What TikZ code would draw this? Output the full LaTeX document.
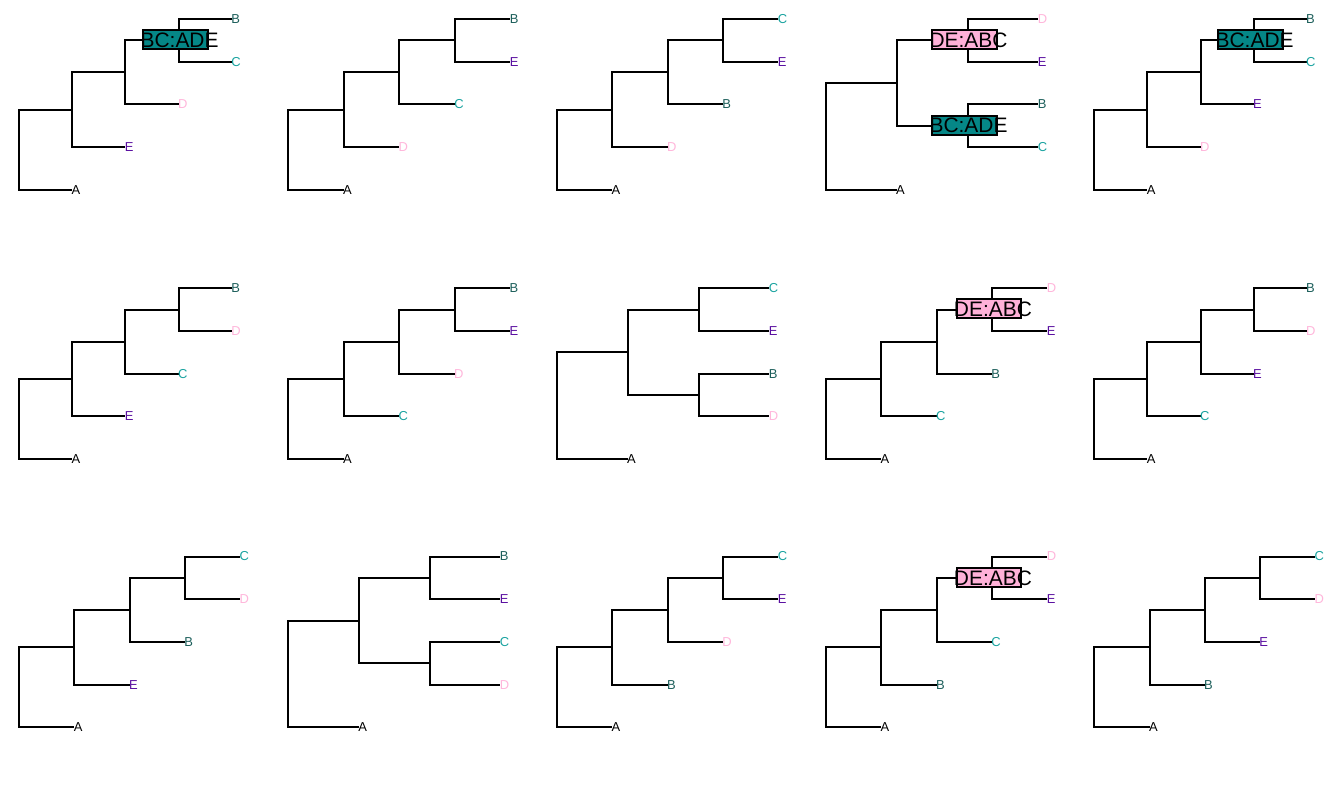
\documentclass[tikz,border=0pt]{standalone}
\usepackage{fontspec}
\setmainfont{Liberation Sans}
\definecolor{colA}{HTML}{000000}
\definecolor{colB}{HTML}{1B5E5A}
\definecolor{colC}{HTML}{19A3A0}
\definecolor{colD}{HTML}{FFB6DB}
\definecolor{colE}{HTML}{5A0FA0}
\definecolor{boxteal}{HTML}{058787}
\definecolor{boxpink}{HTML}{FFB1D8}
\tikzset{
  branch/.style={line width=2bp, line join=miter},
  tiplab/.style={anchor=west, inner sep=0pt, font=\fontsize{13}{13}\selectfont, xshift=-0.7bp},
  splitrect/.style={draw, line width=2bp, inner sep=0pt, minimum width=64.5bp, minimum height=19bp},
  splitlab/.style={inner sep=0pt, font=\fontsize{21}{21}\selectfont},
}
% caterpillar tree: tips #5,#6 depth 4; #7 depth 3; #8 depth 2; #9 depth 1
\newcommand{\cattree}[9]{%
  \begin{scope}[shift={(#2bp,-#3bp)}, x=#4bp, y=-42.7bp, name prefix=#1-]
    \coordinate (t1) at (4,0);
    \coordinate (t2) at (4,1);
    \coordinate (t3) at (3,2);
    \coordinate (t4) at (2,3);
    \coordinate (t5) at (1,4);
    \coordinate (n3) at (3,0.5);
    \coordinate (n2) at (2,1.25);
    \coordinate (n1) at (1,2.125);
    \coordinate (r) at (0,3.0625);
    \draw[branch] (r) |- (n1);
    \draw[branch] (r) |- (t5);
    \draw[branch] (n1) |- (n2);
    \draw[branch] (n1) |- (t4);
    \draw[branch] (n2) |- (n3);
    \draw[branch] (n2) |- (t3);
    \draw[branch] (n3) |- (t1);
    \draw[branch] (n3) |- (t2);
    \node[tiplab, text=col#5] (l1) at (t1) {#5};
    \node[tiplab, text=col#6] (l2) at (t2) {#6};
    \node[tiplab, text=col#7] (l3) at (t3) {#7};
    \node[tiplab, text=col#8] (l4) at (t4) {#8};
    \node[tiplab, text=col#9] (l5) at (t5) {#9};
  \end{scope}}
% balanced tree: ((#5,#6),(#7,#8)) depth 3; #9 depth 1
\newcommand{\baltree}[9]{%
  \begin{scope}[shift={(#2bp,-#3bp)}, x=#4bp, y=-42.7bp, name prefix=#1-]
    \coordinate (t1) at (3,0);
    \coordinate (t2) at (3,1);
    \coordinate (t3) at (3,2);
    \coordinate (t4) at (3,3);
    \coordinate (t5) at (1,4);
    \coordinate (na) at (2,0.5);
    \coordinate (nb) at (2,2.5);
    \coordinate (n1) at (1,1.5);
    \coordinate (r) at (0,2.75);
    \draw[branch] (r) |- (n1);
    \draw[branch] (r) |- (t5);
    \draw[branch] (n1) |- (na);
    \draw[branch] (n1) |- (nb);
    \draw[branch] (na) |- (t1);
    \draw[branch] (na) |- (t2);
    \draw[branch] (nb) |- (t3);
    \draw[branch] (nb) |- (t4);
    \node[tiplab, text=col#5] (l1) at (t1) {#5};
    \node[tiplab, text=col#6] (l2) at (t2) {#6};
    \node[tiplab, text=col#7] (l3) at (t3) {#7};
    \node[tiplab, text=col#8] (l4) at (t4) {#8};
    \node[tiplab, text=col#9] (l5) at (t5) {#9};
  \end{scope}}
\newcommand{\splitbox}[4]{%
  \node[splitrect, fill=#2] (#4) at ([shift={(-3bp,0.75bp)}]#1) {};
  \node[splitlab] (#4t) at ([xshift=1bp]#1) {#3};}
\begin{document}
\begin{tikzpicture}[x=1bp, y=-1bp]
  \fill[white] (0,0) rectangle (1344,806);
  \useasboundingbox (0,0) rectangle (1344,806);
  % row 1
  \cattree{p11}{19}{19}{53.2}{B}{C}{D}{E}{A}
  \splitbox{p11-n3}{boxteal}{BC:ADE}{s11}
  \cattree{p12}{288}{19}{55.6}{B}{E}{C}{D}{A}
  \cattree{p13}{556.7}{19}{55.4}{C}{E}{B}{D}{A}
  \baltree{p14}{825.7}{19}{70.9}{D}{E}{B}{C}{A}
  \splitbox{p14-na}{boxpink}{DE:ABC}{s14a}
  \splitbox{p14-nb}{boxteal}{BC:ADE}{s14b}
  \cattree{p15}{1094.3}{19}{53.1}{B}{C}{E}{D}{A}
  \splitbox{p15-n3}{boxteal}{BC:ADE}{s15}
  % row 2
  \cattree{p21}{19}{288.3}{53.2}{B}{D}{C}{E}{A}
  \cattree{p22}{288}{288.3}{55.5}{B}{E}{D}{C}{A}
  \baltree{p23}{556.7}{288.3}{70.9}{C}{E}{B}{D}{A}
  \cattree{p24}{825.7}{288.3}{55.4}{D}{E}{B}{C}{A}
  \splitbox{p24-n3}{boxpink}{DE:ABC}{s24}
  \cattree{p25}{1094.3}{288.3}{53.1}{B}{D}{E}{C}{A}
  % row 3
  \cattree{p31}{19}{556.5}{55.25}{C}{D}{B}{E}{A}
  \baltree{p32}{288}{556.5}{70.8}{B}{E}{C}{D}{A}
  \cattree{p33}{556.7}{556.5}{55.4}{C}{E}{D}{B}{A}
  \cattree{p34}{825.7}{556.5}{55.4}{D}{E}{C}{B}{A}
  \splitbox{p34-n3}{boxpink}{DE:ABC}{s34}
  \cattree{p35}{1094.3}{556.5}{55.2}{C}{D}{E}{B}{A}
\end{tikzpicture}
\end{document}
